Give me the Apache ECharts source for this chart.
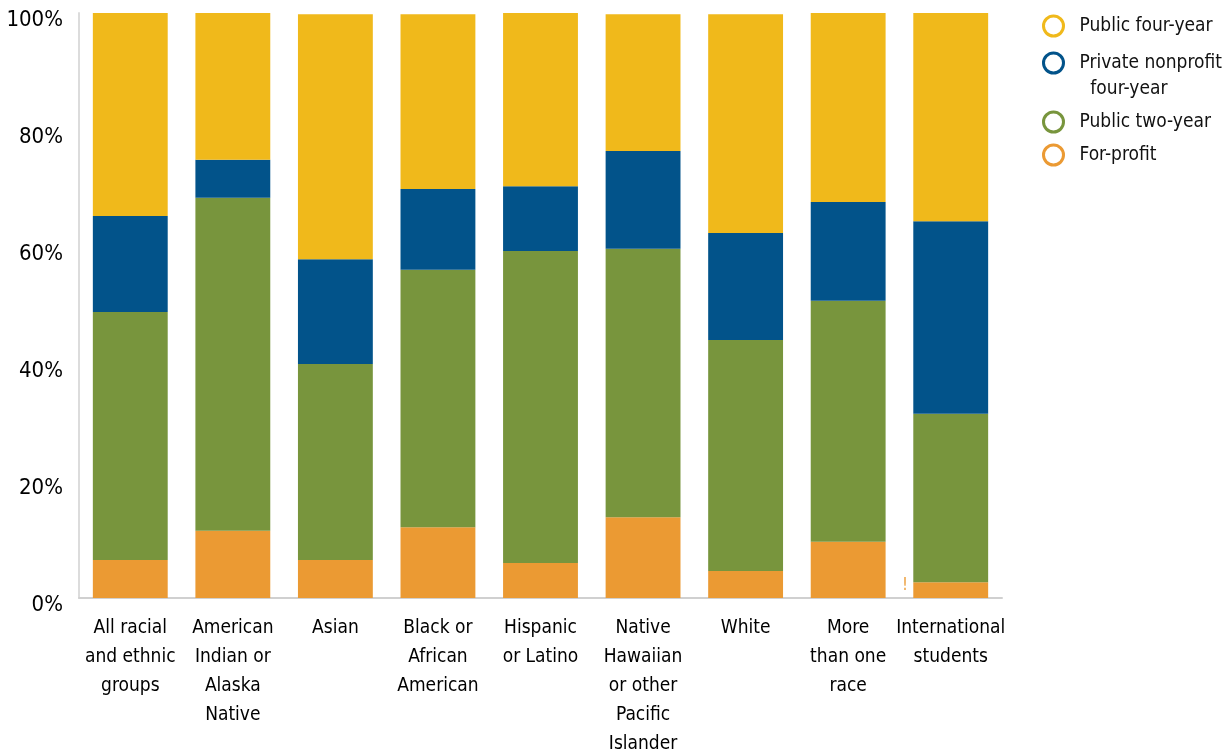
<!DOCTYPE html>
<html>
<head>
<meta charset="utf-8">
<script src="https://cdn.jsdelivr.net/npm/echarts@6/dist/echarts.min.js"></script>
<style>
  html, body { margin: 0; padding: 0; background: #fff; }
  #chart { width: 1225px; height: 753px; }
</style>
</head>
<body>
<div id="chart"></div>
<script>
// Share of students by sector of institution, for each racial/ethnic group (percent)
const categories = [
  'All racial\nand ethnic\ngroups',
  'American\nIndian or\nAlaska\nNative',
  'Asian',
  'Black or\nAfrican\nAmerican',
  'Hispanic\nor Latino',
  'Native\nHawaiian\nor other\nPacific\nIslander',
  'White',
  'More\nthan one\nrace',
  'International\nstudents'
];
const forProfit        = [6.5, 11.5, 6.5, 12.1, 6.0, 13.8, 4.6, 9.6, 2.7];
const publicTwoYear    = [42.4, 56.9, 33.5, 44.0, 53.3, 45.9, 39.5, 41.2, 28.8];
const privateNonprofit = [16.4, 6.5, 17.9, 13.8, 11.1, 16.7, 18.3, 16.9, 32.9];
const publicFourYear   = [34.7, 25.1, 41.9, 29.9, 29.6, 23.4, 37.4, 32.3, 35.6];
const yTicks = [0, 20, 40, 60, 80, 100];

const FONT = "'Liberation Sans Narrow', 'DejaVu Sans Condensed', 'Roboto', sans-serif";
const COLORS = {
  pub4: '#F0B91B',
  priv: '#02538A',
  pub2: '#78953D',
  fp:   '#EB9A33'
};
const NAMES = {
  pub4: 'Public four-year',
  priv: 'Private nonprofit\n  four-year',
  pub2: 'Public two-year',
  fp:   'For-profit'
};

const chart = echarts.init(document.getElementById('chart'), null, { renderer: 'canvas' });

function ring(color) {
  return { color: '#fff', borderColor: color, borderWidth: 3 };
}

const legendCommon = {
  orient: 'vertical',
  left: 1037,
  icon: 'circle',
  itemWidth: 20,
  itemHeight: 20,
  itemGap: 7,
  selectedMode: false,
  textStyle: {
    fontFamily: FONT,
    fontSize: 19,
    color: '#111',
    lineHeight: 26,
    padding: [0, 0, 0, 11]
  },
  // a leading empty line keeps the ring level with the first line of a two-line name
  formatter: name => (name.indexOf('\n') >= 0 ? '\n' + name : name)
};

// International students: flag the for-profit share with a note marker
const forProfitData = forProfit.map((v, i) => {
  if (i === categories.length - 1) {
    return {
      value: v,
      label: {
        show: true,
        position: 'left',
        distance: 5,
        offset: [0, -5],
        formatter: '!',
        color: 'rgba(235,154,51,0.85)',
        fontSize: 18,
        fontFamily: FONT
      }
    };
  }
  return v;
});

const barCommon = {
  type: 'bar',
  stack: 'total',
  barWidth: '73%',
  emphasis: { disabled: true }
};

chart.setOption({
  animation: false,
  backgroundColor: '#fff',
  textStyle: { fontFamily: FONT },
  grid: {
    left: 79, right: 223, top: 13, bottom: 155,
    containLabel: false,
    outerBoundsMode: 'none'
  },
  legend: [
    Object.assign({}, legendCommon, {
      top: 8,
      data: [{ name: NAMES.pub4, itemStyle: ring(COLORS.pub4) }]
    }),
    Object.assign({}, legendCommon, {
      top: 19,
      data: [
        { name: NAMES.priv, itemStyle: ring(COLORS.priv) },
        { name: NAMES.pub2, itemStyle: ring(COLORS.pub2) },
        { name: NAMES.fp, itemStyle: ring(COLORS.fp) }
      ]
    })
  ],
  xAxis: {
    type: 'category',
    data: categories,
    axisLine: { show: true, lineStyle: { color: '#d0d0d0', width: 2 } },
    axisTick: { show: false },
    axisLabel: {
      interval: 0,
      margin: 16,
      fontFamily: FONT,
      fontSize: 19,
      lineHeight: 29,
      color: '#000'
    }
  },
  yAxis: {
    type: 'value',
    min: 0,
    max: 100,
    interval: 20,
    axisLine: { show: true, lineStyle: { color: '#dcdcdc', width: 2 } },
    axisTick: { show: false },
    splitLine: { show: false },
    axisLabel: {
      margin: 16,
      fontFamily: FONT,
      fontSize: 22,
      color: '#000',
      verticalAlign: 'top',
      lineHeight: 14,
      formatter: v => (yTicks.includes(v) ? v + '%' : '')
    }
  },
  series: [
    Object.assign({}, barCommon, {
      name: NAMES.fp,
      itemStyle: { color: COLORS.fp },
      data: forProfitData
    }),
    Object.assign({}, barCommon, {
      name: NAMES.pub2,
      itemStyle: { color: COLORS.pub2 },
      data: publicTwoYear
    }),
    Object.assign({}, barCommon, {
      name: NAMES.priv,
      itemStyle: { color: COLORS.priv },
      data: privateNonprofit
    }),
    Object.assign({}, barCommon, {
      name: NAMES.pub4,
      itemStyle: { color: COLORS.pub4 },
      data: publicFourYear
    })
  ]
});
</script>
</body>
</html>
